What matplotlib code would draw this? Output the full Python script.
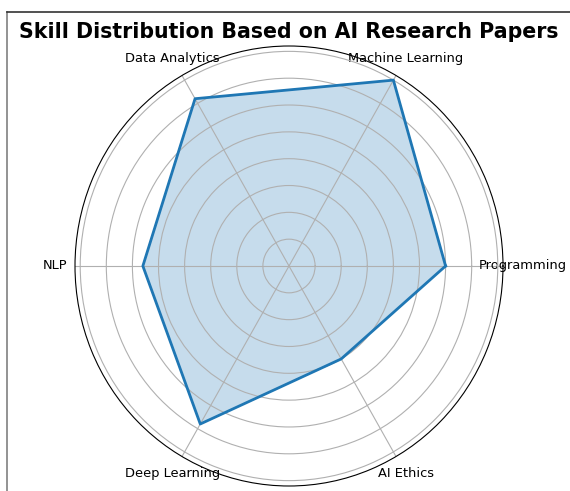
import numpy as np
import matplotlib
matplotlib.use("Agg")
import matplotlib.pyplot as plt
from matplotlib.lines import Line2D

skills = ["Programming", "Machine Learning", "Data Analytics", "NLP", "Deep Learning", "AI Ethics"]
scores = [6.0, 8.0, 7.2, 5.6, 6.8, 4.0]

angles = np.linspace(0, 2*np.pi, len(skills), endpoint=False).tolist()
vals = scores + scores[:1]
angs = angles + angles[:1]

fig = plt.figure(figsize=(5.70, 4.91), dpi=100)
ax = fig.add_axes([75/570, 5/491, 428/570, 440/491], polar=True)
ax.set_aspect("auto")  # reference is slightly stretched vertically
ax.plot(angs, vals, color="#1f77b4", lw=2)
ax.fill(angs, vals, color="#1f77b4", alpha=0.25)
ax.set_xticks(angles)
ax.set_xticklabels(skills, fontsize=9.4)
ax.set_yticklabels([])
ax.grid(True, color="#b0b0b0", lw=0.8)

fig.text(289/570, 1-32/491, "Skill Distribution Based on AI Research Papers",
         ha="center", va="center", fontsize=14.8, fontweight="bold")

# frame edges visible in the crop
fig.add_artist(Line2D([7/570, 7/570], [0, 1-12/491], transform=fig.transFigure, color="#808080", lw=1.2))
fig.add_artist(Line2D([7/570, 1], [1-12/491, 1-12/491], transform=fig.transFigure, color="#333333", lw=1.2))

fig.savefig("out.png", dpi=100)
